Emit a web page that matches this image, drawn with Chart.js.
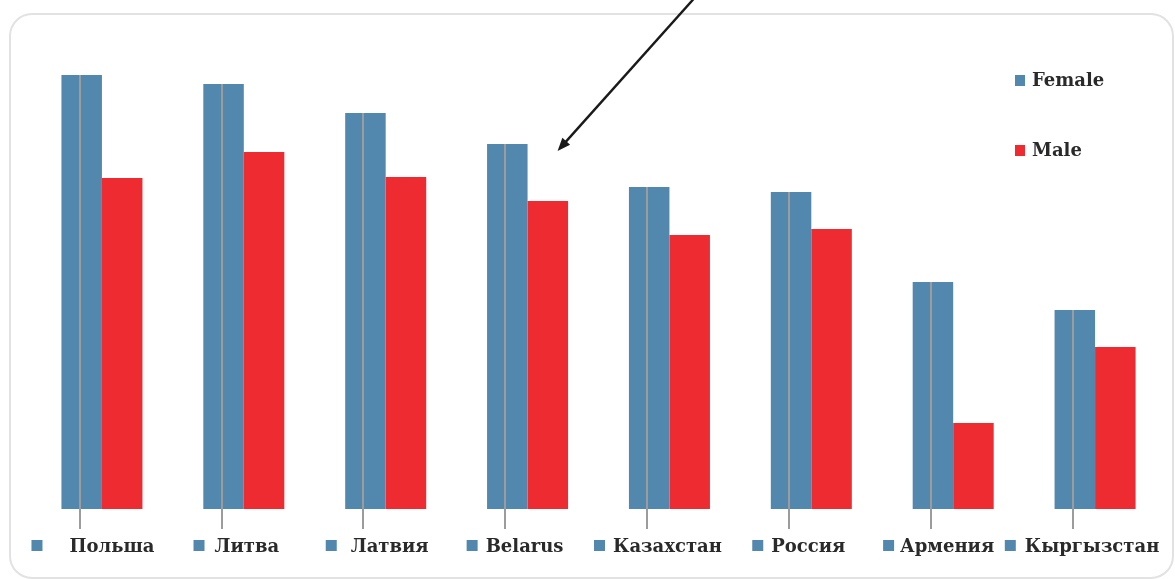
<!DOCTYPE html>
<html>
<head>
<meta charset="utf-8">
<script src="https://cdn.jsdelivr.net/npm/chart.js@4"></script>
<style>
  html, body { margin: 0; padding: 0; background: #ffffff; }
  #wrap { width: 1175px; height: 579px; }
</style>
</head>
<body>
<div id="wrap"><canvas id="c" width="1175" height="579"></canvas></div>
<script>
// Countries along the horizontal axis
const countries = ['Польша', 'Литва', 'Латвия', 'Belarus', 'Казахстан', 'Россия', 'Армения', 'Кыргызстан'];

// Series values per country
const femaleValues = [86.8, 85.0, 79.2, 73.0, 64.4, 63.4, 45.4, 39.8];
const maleValues   = [66.2, 71.4, 66.4, 61.6, 54.8, 56.0, 17.2, 32.4];

// Series names
const seriesNames = ['Female', 'Male'];

const BLUE = '#5388ae';
const RED = '#ee2b31';
const TEXT = '#2a2a2a';
const LABEL_FONT = 'bold 18px "DejaVu Serif"';

// Small horizontal nudges of each category label and the gap to its marker
const labelNudge = [10, 3, 4, -3, -2, -3, -6, -3];
const markerGap = [38, 21, 25, 19, 19, 19, 17, 20];

// Rounded frame around the whole figure
const framePlugin = {
  id: 'frame',
  beforeDraw(chart) {
    const ctx = chart.ctx;
    ctx.save();
    ctx.strokeStyle = '#e2e2e2';
    ctx.lineWidth = 2;
    const x = 10, y = 14, w = 1163, h = 564, r = 22;
    ctx.beginPath();
    ctx.moveTo(x + r, y);
    ctx.lineTo(x + w - r, y);
    ctx.arcTo(x + w, y, x + w, y + r, r);
    ctx.lineTo(x + w, y + h - r);
    ctx.arcTo(x + w, y + h, x + w - r, y + h, r);
    ctx.lineTo(x + r, y + h);
    ctx.arcTo(x, y + h, x, y + h - r, r);
    ctx.lineTo(x, y + r);
    ctx.arcTo(x, y, x + r, y, r);
    ctx.stroke();
    ctx.restore();
  }
};

// Grey tick line through each female bar, category labels with markers,
// the series key and the pointer arrow
const decorPlugin = {
  id: 'decor',
  afterDatasetsDraw(chart) {
    const ctx = chart.ctx;
    const xs = chart.scales.x;
    const ys = chart.scales.y;
    const base = ys.getPixelForValue(0);
    const femaleMeta = chart.getDatasetMeta(0);

    ctx.save();
    // tick lines
    ctx.strokeStyle = '#9c9c9c';
    ctx.lineWidth = 2;
    femaleMeta.data.forEach(bar => {
      const bx = Math.round(bar.x) - 2;
      ctx.beginPath();
      ctx.moveTo(bx, bar.y);
      ctx.lineTo(bx, base + 20);
      ctx.stroke();
    });

    // category labels, each preceded by a small blue marker
    ctx.font = LABEL_FONT;
    ctx.textBaseline = 'middle';
    ctx.textAlign = 'left';
    countries.forEach((name, i) => {
      const cx = xs.getPixelForValue(i) + labelNudge[i];
      const tw = ctx.measureText(name).width;
      const tx = cx - tw / 2;
      ctx.fillStyle = TEXT;
      ctx.fillText(name, tx, 547);
      ctx.fillStyle = BLUE;
      ctx.fillRect(tx - markerGap[i], 540, 11, 11);
    });

    // series key
    const keyColors = [BLUE, RED];
    const keyY = [81, 151];
    seriesNames.forEach((name, i) => {
      ctx.fillStyle = keyColors[i];
      ctx.fillRect(1015, keyY[i] - 6, 10, 11);
      ctx.fillStyle = TEXT;
      ctx.fillText(name, 1032, keyY[i]);
    });

    // arrow pointing at the Belarus pair
    const tipX = xs.getPixelForValue(3) + 30;
    const tipY = ys.getPixelForValue(femaleValues[3]) + 7;
    const sx = tipX + 136, sy = tipY - 152;
    ctx.strokeStyle = '#1a1a1a';
    ctx.fillStyle = '#1a1a1a';
    ctx.lineWidth = 2.4;
    const ang = Math.atan2(tipY - sy, tipX - sx);
    const head = 14;
    ctx.beginPath();
    ctx.moveTo(sx, sy);
    ctx.lineTo(tipX - Math.cos(ang) * head * 0.8, tipY - Math.sin(ang) * head * 0.8);
    ctx.stroke();
    ctx.beginPath();
    ctx.moveTo(tipX, tipY);
    ctx.lineTo(tipX - head * Math.cos(ang - 0.38), tipY - head * Math.sin(ang - 0.38));
    ctx.lineTo(tipX - head * Math.cos(ang + 0.38), tipY - head * Math.sin(ang + 0.38));
    ctx.closePath();
    ctx.fill();
    ctx.restore();
  }
};

new Chart(document.getElementById('c'), {
  type: 'bar',
  data: {
    labels: countries,
    datasets: [
      { label: seriesNames[0], data: femaleValues, backgroundColor: BLUE, borderWidth: 0 },
      { label: seriesNames[1], data: maleValues, backgroundColor: RED, borderWidth: 0 }
    ]
  },
  options: {
    responsive: false,
    animation: false,
    devicePixelRatio: 1,
    layout: { padding: { left: 31, right: 9, top: 9, bottom: 70 } },
    datasets: { bar: { categoryPercentage: 0.571, barPercentage: 1.0 } },
    scales: {
      x: { display: false, offset: true },
      y: { display: false, min: 0, max: 100 }
    },
    plugins: {
      legend: { display: false },
      tooltip: { enabled: false },
      title: { display: false }
    }
  },
  plugins: [framePlugin, decorPlugin]
});
</script>
</body>
</html>
